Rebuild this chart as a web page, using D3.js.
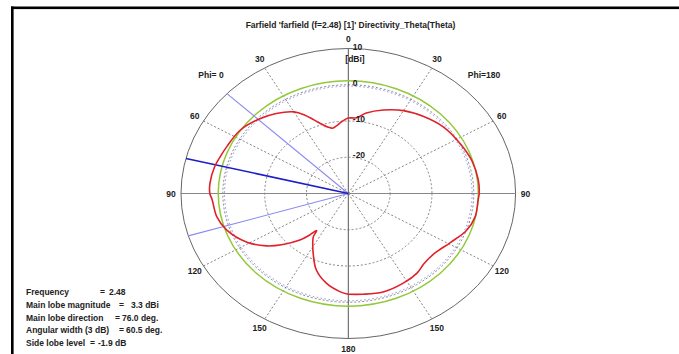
<!DOCTYPE html>
<html><head><meta charset="utf-8">
<script src="https://cdn.jsdelivr.net/npm/d3@7"></script>
<style>
html,body{margin:0;padding:0;background:#fff;}
svg{display:block;}
text{font-family:"Liberation Sans",Arial,sans-serif;font-weight:bold;font-size:8.5px;fill:#222;}
</style></head>
<body>
<svg id="chart" width="679" height="354"></svg>
<script>
// ---- data ----
const title = "Farfield 'farfield (f=2.48) [1]' Directivity_Theta(Theta)";
const unitLabel = "[dBi]";
const thetaTicks = [0, 30, 60, 90, 120, 150, 180];
const ringValues = [-20, -10, 0];
const ringLabels = ["10", "0", "-10", "-20"];
const ringLabelValues = [10, 0, -10, -20];
const phiLabels = ["Phi= 0", "Phi=180"];
// Phi = 0 half (drawn on the left)
const thetaPhi0 = [0, 4.5, 8, 11.7, 15, 17.5, 22, 26, 30, 38, 46, 56, 66, 72, 77, 85, 90, 93, 101.5, 109, 119, 126.5, 132, 138, 141, 143.5, 145, 149, 153, 160, 168, 176, 180];
const dirPhi0   = [-9.2, -10.1, -11.0, -11.6, -11.0, -10.2, -8.1, -5.8, -4.0, -2.0, -0.4, 1.2, 1.8, 2.3, 2.8, 3.2, 3.1, 2.6, 2.1, 0.8, -2.3, -5.7, -9.0, -12.7, -15.2, -17.3, -15.4, -13.5, -11.5, -7.6, -4.7, -2.8, -2.2];
// Phi = 180 half (drawn on the right)
const thetaPhi180 = [0, 5.5, 11, 20, 30, 40, 51, 63, 73, 83, 90, 93, 102, 110, 119, 129, 137, 143, 152, 163, 173, 180];
const dirPhi180   = [-9.2, -9.0, -7.4, -5.5, -3.6, -2.2, -0.8, 0.1, 0.9, 1.3, 1.3, 1.1, 1.0, 0.0, -2.1, -3.6, -3.5, -2.6, -2.0, -1.6, -2.0, -2.2];
const mainLobeLevel = 1.1;      // green circle
const beamLevel = -0.4;         // blue dotted circle
const mainLobeDir = 76;         // deg, Phi=0 side
const beamEdges = [46.5, 107];  // deg, Phi=0 side
const infoLabels = ["Frequency", "Main lobe magnitude", "Main lobe direction", "Angular width (3 dB)", "Side lobe level"];
const infoValues = ["2.48", "3.3 dBi", "76.0 deg.", "60.5 deg.", "-1.9 dB"];

// ---- layout ----
const svg = d3.select("#chart");
const cx = 348.3, cy = 193.5, Rx = 167.3, Ry = 145;
const r = d3.scaleLinear().domain([-30, 10]).range([0, 1]);
const rad = d => d * Math.PI / 180;
// side: -1 = Phi 0 (left), +1 = Phi 180 (right)
const px = (theta, v, side) => cx + side * Rx * r(v) * Math.sin(rad(theta));
const py = (theta, v) => cy - Ry * r(v) * Math.cos(rad(theta));

// frame
svg.append("rect").attr("x", 11).attr("y", 6.5).attr("width", 668).attr("height", 2.6).attr("fill", "#000");
svg.append("rect").attr("x", 11).attr("y", 6.5).attr("width", 2.6).attr("height", 348).attr("fill", "#000");

// title
svg.append("text").attr("x", 350.5).attr("y", 28).attr("text-anchor", "middle").attr("font-size", "8.7px").text(title);

const g = svg.append("g");

// dotted rings
g.selectAll(".ring").data(ringValues).enter().append("ellipse")
  .attr("cx", cx).attr("cy", cy)
  .attr("rx", d => Rx * r(d)).attr("ry", d => Ry * r(d))
  .attr("fill", "none").attr("stroke", "#666").attr("stroke-width", 0.8)
  .attr("stroke-dasharray", "2,2");

// dotted spokes
const spokes = [];
[30, 60, 120, 150].forEach(t => { spokes.push([t, -1]); spokes.push([t, 1]); });
g.selectAll(".spoke").data(spokes).enter().append("line")
  .attr("x1", cx).attr("y1", cy)
  .attr("x2", d => px(d[0], 10, d[1])).attr("y2", d => py(d[0], 10))
  .attr("stroke", "#666").attr("stroke-width", 0.8).attr("stroke-dasharray", "2,2");

// axes
g.append("line").attr("x1", cx).attr("x2", cx).attr("y1", py(0, 10)).attr("y2", py(180, 10))
  .attr("stroke", "#555").attr("stroke-width", 1);
g.append("line").attr("x1", px(90, 10, -1)).attr("x2", px(90, 10, 1)).attr("y1", cy).attr("y2", cy)
  .attr("stroke", "#888").attr("stroke-width", 1);

// outer circle
g.append("ellipse").attr("cx", cx).attr("cy", cy).attr("rx", Rx * r(10)).attr("ry", Ry * r(10))
  .attr("fill", "none").attr("stroke", "#666").attr("stroke-width", 1);

// blue dotted beam circle
g.append("ellipse").attr("cx", cx).attr("cy", cy).attr("rx", Rx * r(beamLevel)).attr("ry", Ry * r(beamLevel))
  .attr("fill", "none").attr("stroke", "#5a5ae0").attr("stroke-width", 0.7).attr("stroke-dasharray", "1.5,2.5");

// green main-lobe circle
g.append("ellipse").attr("cx", cx).attr("cy", cy).attr("rx", Rx * r(mainLobeLevel)).attr("ry", Ry * r(mainLobeLevel))
  .attr("fill", "none").attr("stroke", "#92c83a").attr("stroke-width", 1.5);

// beam lines
g.selectAll(".beam").data(beamEdges).enter().append("line")
  .attr("x1", cx).attr("y1", cy)
  .attr("x2", d => px(d, 10, -1)).attr("y2", d => py(d, 10))
  .attr("stroke", "#8a8af0").attr("stroke-width", 1.1);
g.append("line").attr("x1", cx).attr("y1", cy)
  .attr("x2", px(mainLobeDir, 10, -1)).attr("y2", py(mainLobeDir, 10))
  .attr("stroke", "#1c1cc8").attr("stroke-width", 1.6);

// pattern curve
const pts = [];
for (let i = thetaPhi0.length - 1; i >= 0; i--) pts.push([px(thetaPhi0[i], dirPhi0[i], -1), py(thetaPhi0[i], dirPhi0[i])]);
for (let i = 1; i < thetaPhi180.length; i++) pts.push([px(thetaPhi180[i], dirPhi180[i], 1), py(thetaPhi180[i], dirPhi180[i])]);
g.append("path").attr("d", d3.line().curve(d3.curveCatmullRom.alpha(0.5))(pts))
  .attr("fill", "none").attr("stroke", "#e0202a").attr("stroke-width", 1.6);

// ring labels
g.selectAll(".rl").data(ringLabelValues).enter().append("text")
  .attr("x", cx + 4.5).attr("y", d => py(0, d) + 1)
  .text((d, i) => ringLabels[i]);
g.append("text").attr("x", cx - 3).attr("y", 62).text(unitLabel);

// theta labels
const tl = [];
thetaTicks.forEach(t => {
  if (t === 0 || t === 180) tl.push([t, 1]);
  else { tl.push([t, -1]); tl.push([t, 1]); }
});
g.selectAll(".tl").data(tl).enter().append("text")
  .attr("x", d => cx + d[1] * (Rx + 10) * Math.sin(rad(d[0])))
  .attr("y", d => cy - (Ry + 10) * Math.cos(rad(d[0])))
  .attr("text-anchor", "middle").attr("dominant-baseline", "central")
  .text(d => d[0]);

// phi labels
g.append("text").attr("x", 211).attr("y", 75).attr("text-anchor", "middle").attr("dominant-baseline", "central").text(phiLabels[0]);
g.append("text").attr("x", 484).attr("y", 75).attr("text-anchor", "middle").attr("dominant-baseline", "central").text(phiLabels[1]);

// info block
const eqX = [100, 119, 115, 119, 90];
const valX = [109, 131, 122, 126, 98];
const info = svg.append("g");
infoLabels.forEach((lab, i) => {
  const y = 292 + i * 12.8;
  info.append("text").attr("x", 26).attr("y", y).attr("dominant-baseline", "central").text(lab);
  info.append("text").attr("x", eqX[i]).attr("y", y).attr("dominant-baseline", "central").text("=");
  info.append("text").attr("x", valX[i]).attr("y", y).attr("dominant-baseline", "central").text(infoValues[i]);
});
</script>
</body></html>
